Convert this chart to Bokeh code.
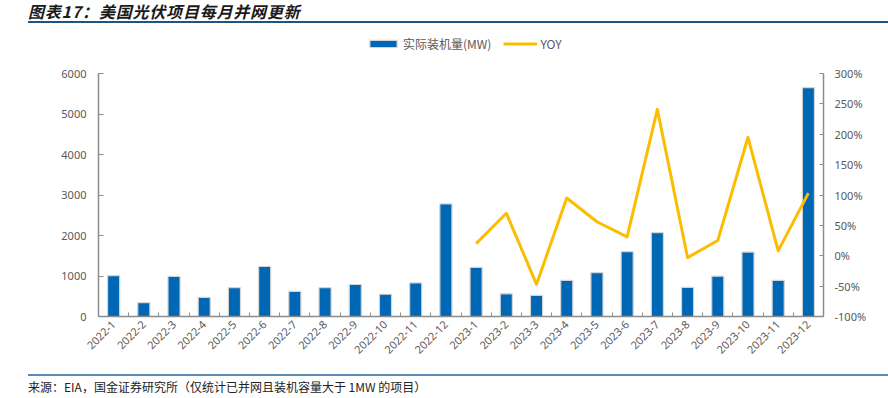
import math
from bokeh.plotting import figure
from bokeh.layouts import column
from bokeh.models import (LinearAxis, Range1d, FixedTicker, NumeralTickFormatter,
                          Legend, LegendItem, Div)
from bokeh.embed import file_html
from bokeh.resources import INLINE

# ---------------- data ----------------
months = ["2022-1", "2022-2", "2022-3", "2022-4", "2022-5", "2022-6",
          "2022-7", "2022-8", "2022-9", "2022-10", "2022-11", "2022-12",
          "2023-1", "2023-2", "2023-3", "2023-4", "2023-5", "2023-6",
          "2023-7", "2023-8", "2023-9", "2023-10", "2023-11", "2023-12"]
capacity_mw = [1010, 340, 990, 470, 710, 1235, 618, 710, 790, 550, 830, 2780,
               1215, 560, 520, 890, 1085, 1600, 2070, 720, 995, 1590, 890, 5650]
yoy_months = months[12:]
yoy = [0.20, 0.70, -0.47, 0.95, 0.56, 0.31, 2.41, -0.03, 0.25, 1.95, 0.08, 1.03]
left_ticks = [0, 1000, 2000, 3000, 4000, 5000, 6000]
right_ticks = [-1.0, -0.5, 0.0, 0.5, 1.0, 1.5, 2.0, 2.5, 3.0]

title_text = "图表17：美国光伏项目每月并网更新"
source_text = "来源：EIA，国金证券研究所（仅统计已并网且装机容量大于 1MW 的项目）"
bar_label = "实际装机量(MW)"
line_label = "YOY"

# ---------------- styles ----------------
BAR = "#0067b4"
LINE = "#fabd00"
AXIS = "#8c8c8c"
TXT = "#595959"
NUMFONT = "Noto Sans"
CJK = "Noto Sans CJK SC"

W = 888
FIG_H = 346
# frame spans 286 px vertically; value 6000 / 300% sit 43 px below frame top
left_top = 6000 * 286 / 243
right_top = -1 + 4 * 286 / 243

p = figure(width=W, height=FIG_H, output_backend="svg", toolbar_location=None, tools="",
           x_range=Range1d(-0.5, len(months) - 0.5), y_range=Range1d(0, left_top),
           min_border_left=98, min_border_right=65, min_border_top=4, min_border_bottom=56,
           margin=0)
p.extra_y_ranges = {"yoy": Range1d(-1, right_top)}
p.outline_line_color = None
p.xgrid.visible = False
p.ygrid.visible = False
p.background_fill_color = "white"
p.border_fill_color = "white"

idx = list(range(len(months)))
bars = p.vbar(x=idx, top=capacity_mw, width=0.4, fill_color=BAR,
              line_color="#d4d4d4", line_width=1.2)
yidx = [months.index(m) for m in yoy_months]
ln = p.line(x=yidx, y=yoy, y_range_name="yoy", line_color=LINE, line_width=3,
            line_join="round")

# x axis
xa = p.xaxis[0]
xa.ticker = FixedTicker(ticks=idx, minor_ticks=[i - 0.5 for i in range(len(months) + 1)])
xa.major_label_overrides = {i: m for i, m in enumerate(months)}
xa.major_label_orientation = math.pi / 4
xa.major_tick_in = 0
xa.major_tick_out = 0
xa.minor_tick_in = 4
xa.minor_tick_out = 0
xa.minor_tick_line_color = AXIS
xa.axis_line_color = AXIS
xa.axis_line_width = 1.5
xa.major_label_text_font = NUMFONT
xa.major_label_text_font_size = "11px"
xa.major_label_text_color = TXT
xa.major_label_standoff = 6

# left axis
ya = p.yaxis[0]
ya.ticker = FixedTicker(ticks=left_ticks)
ya.bounds = (0, 6000)
ya.major_tick_in = 5
ya.major_tick_out = 0
ya.minor_tick_line_color = None
ya.axis_line_color = AXIS
ya.axis_line_width = 1.5
ya.major_tick_line_color = AXIS
ya.major_label_text_font = NUMFONT
ya.major_label_text_font_size = "11px"
ya.major_label_text_color = TXT
ya.major_label_standoff = 12

# right axis
ra = LinearAxis(y_range_name="yoy", ticker=FixedTicker(ticks=right_ticks),
                formatter=NumeralTickFormatter(format="0%"), bounds=(-1, 3))
ra.major_tick_in = 4
ra.major_tick_out = 0
ra.minor_tick_line_color = None
ra.axis_line_color = AXIS
ra.axis_line_width = 1.5
ra.major_tick_line_color = AXIS
ra.major_label_text_font = NUMFONT
ra.major_label_text_font_size = "11px"
ra.major_label_text_color = TXT
ra.major_label_standoff = 11
p.add_layout(ra, "right")

# legend (inside the frame, above the value area)
legend = Legend(items=[LegendItem(label=bar_label, renderers=[bars]),
                       LegendItem(label=line_label, renderers=[ln])],
                location=(268, 264), orientation="horizontal",
                glyph_width=34, glyph_height=9, label_height=16,
                label_standoff=3, spacing=12, padding=0, margin=0,
                border_line_color=None, background_fill_alpha=0,
                label_text_font=CJK, label_text_font_size="12px",
                label_text_color=TXT)
p.add_layout(legend, "center")

title_div = Div(width=W, height=26, margin=0, text=(
    '<div style="position:relative;width:888px;height:26px;">'
    '<div style="position:absolute;left:28px;top:2px;font-family:\'Noto Sans CJK SC\';'
    'font-size:16px;letter-spacing:0.8px;font-weight:bold;font-style:italic;color:#1a1a1a;'
    f'line-height:18px;white-space:nowrap;">{title_text}</div>'
    '<div style="position:absolute;left:28px;top:21px;width:860px;height:2px;'
    'background:#1d5580;"></div></div>'))

source_div = Div(width=W, height=26, margin=0, text=(
    '<div style="position:relative;width:888px;height:26px;">'
    '<div style="position:absolute;left:28px;top:2px;width:860px;height:2px;'
    'background:#5b8bb3;"></div>'
    '<div style="position:absolute;left:28px;top:7px;font-family:\'Noto Sans CJK SC\';'
    'font-size:12px;color:#222222;line-height:16px;'
    f'white-space:nowrap;">{source_text}</div></div>'))

layout = column(title_div, p, source_div, spacing=0, margin=0)

open("out.html", "w").write(file_html(layout, INLINE))
